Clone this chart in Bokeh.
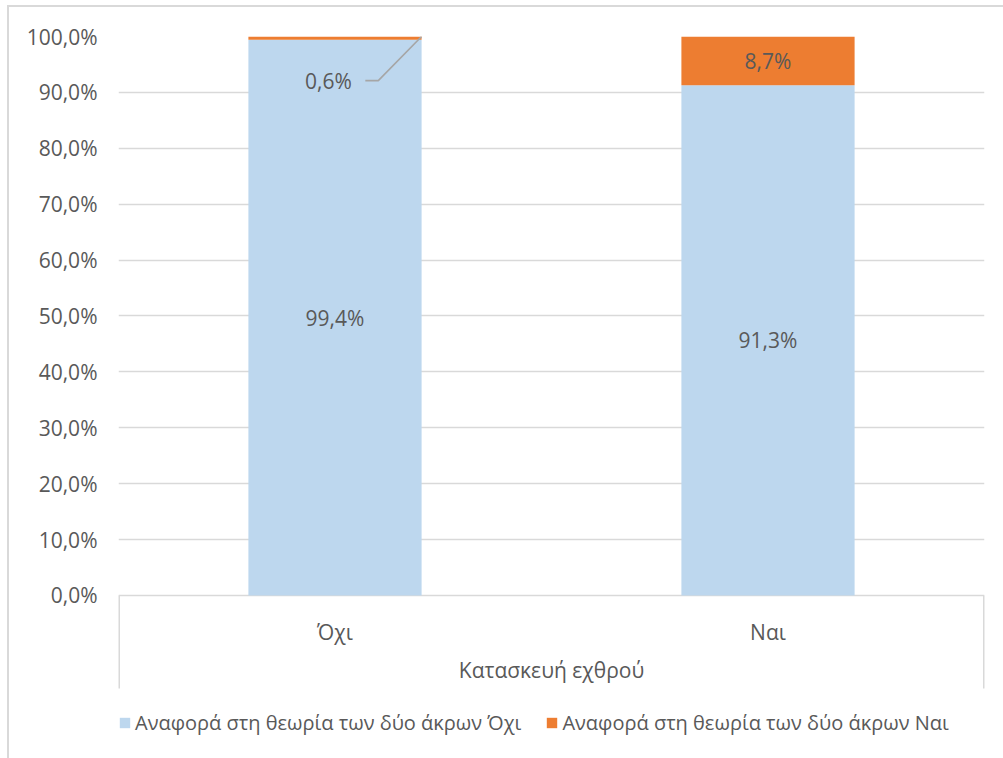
from bokeh.plotting import figure
from bokeh.models import (ColumnDataSource, FixedTicker, Legend, LegendItem, Range1d)
from bokeh.core.properties import value
from bokeh.embed import file_html
from bokeh.resources import INLINE

categories = ["Όχι", "Ναι"]
no_values = [99.4, 91.3]
yes_values = [0.6, 8.7]
no_labels = ["99,4%", "91,3%"]
yes_labels = ["0,6%", "8,7%"]
series_names = ["Αναφορά στη θεωρία των δύο άκρων Όχι", "Αναφορά στη θεωρία των δύο άκρων Ναι"]
group_label = "Κατασκευή εχθρού"
y_ticks = [0, 10, 20, 30, 40, 50, 60, 70, 80, 90, 100]
y_tick_labels = ["0,0%", "10,0%", "20,0%", "30,0%", "40,0%", "50,0%", "60,0%", "70,0%", "80,0%", "90,0%", "100,0%"]

FONT = "Open Sans"
TXT = "#595959"
BLUE = "#BDD7EE"
ORANGE = "#ED7D31"
GRID = "#D9D9D9"
FS = "21px"
LFS = "20px"

xs = [i + 0.5 for i in range(len(categories))]
bar_w = 0.4
ymin = -27.73
axis_box_bottom = -16.64

p = figure(frame_width=866, frame_height=714, output_backend="svg", toolbar_location=None,
           x_range=Range1d(0, len(categories)), y_range=Range1d(ymin, 100),
           min_border_left=109, min_border_right=19, min_border_top=29, min_border_bottom=8)
p.outline_line_color = None
p.xaxis.visible = False
p.xgrid.grid_line_color = None
p.ygrid.grid_line_color = GRID
p.ygrid.grid_line_width = 1.5
p.ygrid.ticker = FixedTicker(ticks=y_ticks)
p.yaxis.ticker = FixedTicker(ticks=y_ticks)
p.yaxis.major_label_overrides = {t: l for t, l in zip(y_ticks, y_tick_labels)}
p.yaxis.axis_line_color = None
p.yaxis.major_tick_line_color = None
p.yaxis.major_tick_out = 0
p.yaxis.major_tick_in = 0
p.yaxis.minor_tick_line_color = None
p.yaxis.major_label_text_font = FONT
p.yaxis.major_label_text_font_size = FS
p.yaxis.major_label_text_color = TXT
p.yaxis.major_label_standoff = 21
p.styles = {"border-left": "2px solid #D9D9D9", "border-top": "2px solid #D9D9D9",
            "margin-left": "7px", "margin-top": "5px"}

src = ColumnDataSource(dict(x=xs, no=no_values, yes=yes_values,
                            top=[a + b for a, b in zip(no_values, yes_values)]))
r_no = p.vbar(x="x", bottom=0, top="no", width=bar_w, source=src, fill_color=BLUE, line_color=None)
r_yes = p.vbar(x="x", bottom="no", top="top", width=bar_w, source=src, fill_color=ORANGE, line_color=None)

# data labels
p.text(x=xs, y=[v / 2 for v in no_values], text=no_labels, text_align="center", text_baseline="middle",
       text_font=value(FONT), text_font_size=FS, text_color=TXT)
p.text(x=[xs[1]], y=[no_values[1] + yes_values[1] / 2], text=[yes_labels[1]], text_align="center",
       text_baseline="middle", text_font=value(FONT), text_font_size=FS, text_color=TXT)
lab_x = xs[0] - 0.015
lab_y = 92.1
p.text(x=[lab_x], y=[lab_y], text=[yes_labels[0]], text_align="center", text_baseline="middle",
       text_font=value(FONT), text_font_size=FS, text_color=TXT)
p.line(x=[lab_x + 0.085, lab_x + 0.115, xs[0] + bar_w / 2], y=[lab_y, lab_y, 100],
       line_color="#A6A6A6", line_width=1.6)

# category axis box
p.segment(x0=[0, len(categories)], y0=[axis_box_bottom] * 2, x1=[0, len(categories)], y1=[0, 0],
          line_color=GRID, line_width=3)
p.text(x=xs, y=[-6.6] * len(xs), text=categories, text_align="center", text_baseline="middle",
       text_font=value(FONT), text_font_size=FS, text_color=TXT)
p.text(x=[len(categories) / 2], y=[-13.4], text=[group_label], text_align="center", text_baseline="middle",
       text_font=value(FONT), text_font_size=FS, text_color=TXT)

legend = Legend(items=[LegendItem(label=series_names[0], renderers=[r_no]),
                       LegendItem(label=series_names[1], renderers=[r_yes])],
                orientation="horizontal", location=(0, 14),
                label_text_font=FONT, label_text_font_size=LFS, label_text_color=TXT,
                glyph_width=13, glyph_height=13, label_standoff=4, spacing=24,
                border_line_color=None, background_fill_alpha=0, padding=0, margin=0)
p.add_layout(legend, "center")

open("out.html", "w").write(file_html(p, INLINE))
